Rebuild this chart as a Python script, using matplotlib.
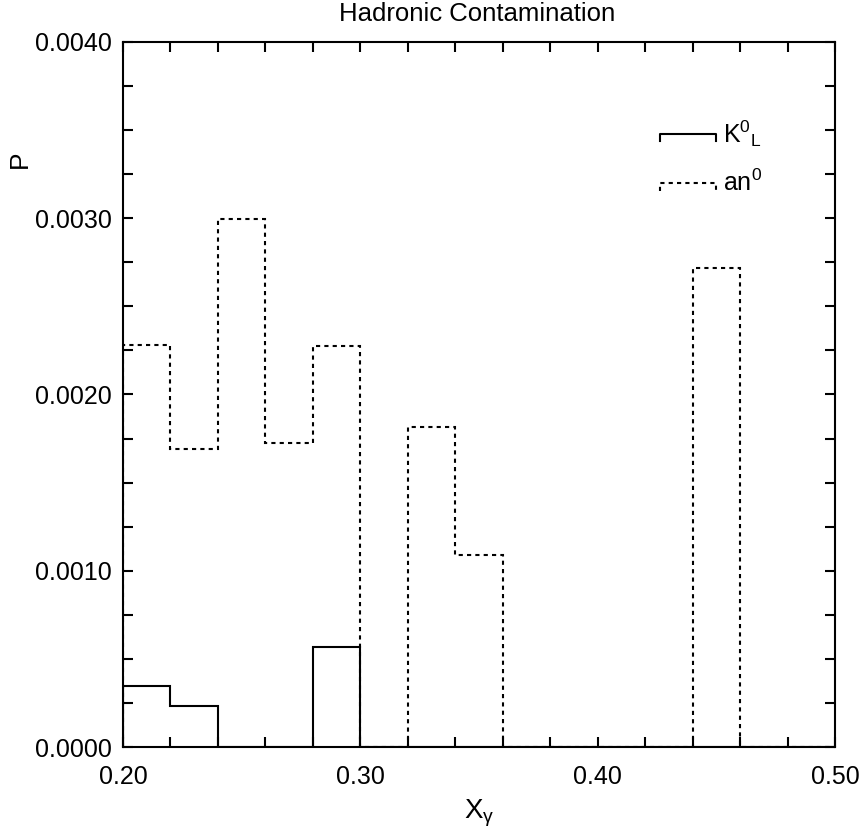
import numpy as np
import matplotlib
matplotlib.use('Agg')
import matplotlib.pyplot as plt
from matplotlib.ticker import MultipleLocator, FormatStrFormatter

plt.rcParams['font.family'] = ['Liberation Sans', 'DejaVu Sans']
plt.rcParams['mathtext.fontset'] = 'custom'
plt.rcParams['mathtext.rm'] = 'Liberation Sans'
plt.rcParams['mathtext.it'] = 'Liberation Sans:italic'

# границы бинов по X_gamma
edges = np.round(np.arange(0.20, 0.5001, 0.02), 2)
k0l = [0.000346, 0.000233, 0, 0, 0.000567, 0, 0, 0, 0, 0, 0, 0, 0, 0, 0]
an0 = [0.002281, 0.001691, 0.002996, 0.001725, 0.002275, 0, 0.001816, 0.001089,
       0, 0, 0, 0, 0.002718, 0, 0]

fig = plt.figure(figsize=(8.59, 8.30), dpi=100)
ax = fig.add_axes([0.1432, 0.1000, 0.8289, 0.8494])

ax.stairs(k0l, edges, baseline=0, color='k', lw=1.5)
ax.stairs(an0, edges, baseline=0, color='k', lw=1.5, linestyle=(0, (2, 2)))

ax.set_xlim(0.20, 0.50)
ax.set_ylim(0, 0.004)
ax.xaxis.set_major_locator(MultipleLocator(0.1))
ax.xaxis.set_minor_locator(MultipleLocator(0.02))
ax.yaxis.set_major_locator(MultipleLocator(0.001))
ax.yaxis.set_minor_locator(MultipleLocator(0.00025))
ax.xaxis.set_major_formatter(FormatStrFormatter('%.2f'))
ax.yaxis.set_major_formatter(FormatStrFormatter('%.4f'))
ax.tick_params(which='both', direction='in', top=True, right=True,
               length=7, width=1.5, labelsize=18, pad=8)
ax.tick_params(axis='x', pad=13)
for s in ax.spines.values():
    s.set_linewidth(1.5)

fig.text(0.555, 0.983, 'Hadronic Contamination', fontsize=18.5, ha='center', va='center')
ax.set_xlabel(r'X$_{\mathrm{γ}}$', fontsize=20, labelpad=6)
fig.text(0.0233, 0.8084, 'P', rotation=90, fontsize=19, ha='center', va='center')

# легенда в стиле IDL
for yl, ls, lab in [(0.870, '-', r'K$^0$$_{\rm L}$'), (0.800, (0, (2, 2)), r'an$^0$')]:
    x0, x1, dy = 0.754, 0.833, 0.011
    ax.plot([x0, x0, x1, x1], [yl - dy, yl, yl, yl - dy], color='k', lw=1.5,
            linestyle=ls, transform=ax.transAxes, clip_on=False)
    ax.text(x1 + 0.01, yl, lab, fontsize=18, va='center', ha='left',
            transform=ax.transAxes)

fig.savefig('out.png', dpi=100)
